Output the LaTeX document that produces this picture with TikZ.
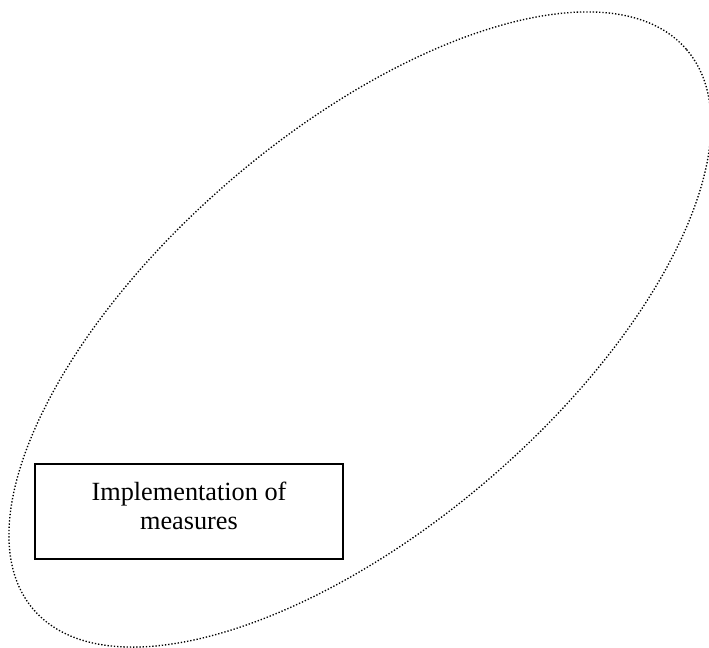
\documentclass[tikz,border=0pt]{standalone}
\usepackage{fontspec}
\setmainfont{Liberation Serif}

\tikzset{every picture/.style={line width=0.75pt}}
\tikzset{measbox/.style={draw, line width=1.5pt, minimum width=231pt, minimum height=71.25pt, inner sep=0pt}}

\begin{document}
\begin{tikzpicture}[x=0.75pt,y=0.75pt,yscale=-1,xscale=1]
\useasboundingbox (0,0) rectangle (709,648);

%Shape: Ellipse [id:impl_cycle]
\draw  [dash pattern={on 1pt off 1.4pt}][line width=1pt]  (686.6,49.6) .. controls (757.6,132.4) and (668.9,324.8) .. (488.5,479.4) .. controls (308.1,634) and (104.4,692.2) .. (33.4,609.4) .. controls (-37.6,526.6) and (51.1,334.2) .. (231.5,179.6) .. controls (411.9,25) and (615.6,-33.2) .. (686.6,49.6) -- cycle ;
%Shape: Rectangle [id:impl_box]
\node [measbox] (impl) at (189,511.5) {};

% Text Node
\node [align=center, font=\fontsize{19.7pt}{21.75pt}\selectfont] (impltext) at (189,505.5) {Implementation of\\measures};

\end{tikzpicture}
\end{document}
